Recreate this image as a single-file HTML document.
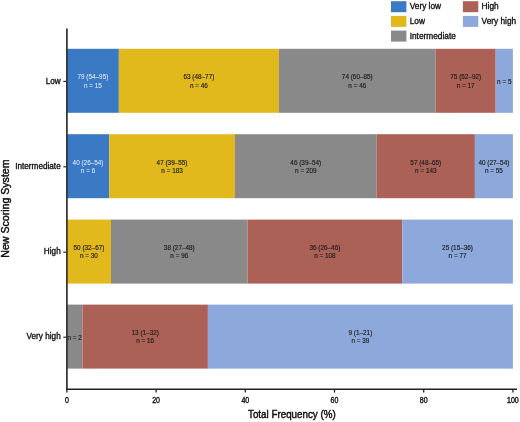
<!DOCTYPE html><html><head><meta charset="utf-8"><style>html,body{margin:0;padding:0;background:#fff;}
body{width:520px;height:422px;overflow:hidden;}
svg{display:block;will-change:transform;font-family:"Liberation Sans",sans-serif;}
text{paint-order:stroke;}
.d{fill:#1e1e1e;stroke:#1e1e1e;stroke-width:0.17px;}
.w{fill:#eef2fa;}
.k{fill:#111;stroke:#111;stroke-width:0.33px;}
.k2{fill:#111;stroke:#111;stroke-width:0.38px;}
.t{fill:#111;stroke:#111;stroke-width:0.45px;}
</style></head><body>
<svg width="520" height="422" viewBox="0 0 520 422">
<rect width="520" height="422" fill="#fff"/>
<rect x="66.90" y="48.80" width="51.95" height="64.00" fill="#3A7AC5"/>
<rect x="118.85" y="48.80" width="160.05" height="64.00" fill="#E1B91C"/>
<rect x="278.90" y="48.80" width="156.80" height="64.00" fill="#898989"/>
<rect x="435.70" y="48.80" width="60.00" height="64.00" fill="#AC6157"/>
<rect x="495.70" y="48.80" width="17.20" height="64.00" fill="#8DA9DB"/>
<text class="w" transform="translate(92.88,79.30) scale(0.9,1)" font-size="7.1" text-anchor="middle">79 (54–95)</text>
<text class="w" transform="translate(92.88,87.60) scale(0.9,1)" font-size="7.1" text-anchor="middle">n = 15</text>
<text class="d" transform="translate(198.88,79.30) scale(0.9,1)" font-size="7.1" text-anchor="middle">63 (48–77)</text>
<text class="d" transform="translate(198.88,87.60) scale(0.9,1)" font-size="7.1" text-anchor="middle">n = 46</text>
<text class="d" transform="translate(357.30,79.30) scale(0.9,1)" font-size="7.1" text-anchor="middle">74 (60–85)</text>
<text class="d" transform="translate(357.30,87.60) scale(0.9,1)" font-size="7.1" text-anchor="middle">n = 46</text>
<text class="d" transform="translate(465.70,79.30) scale(0.9,1)" font-size="7.1" text-anchor="middle">75 (52–92)</text>
<text class="d" transform="translate(465.70,87.60) scale(0.9,1)" font-size="7.1" text-anchor="middle">n = 17</text>
<text class="d" transform="translate(504.30,83.80) scale(0.9,1)" font-size="7.1" text-anchor="middle">n = 5</text>
<line x1="63.3" x2="66.5" y1="81.40" y2="81.40" stroke="#1a1a1a" stroke-width="1.1"/>
<text class="k" x="60.7" y="83.60" font-size="8.2" text-anchor="end">Low</text>
<rect x="66.90" y="134.20" width="42.30" height="64.00" fill="#3A7AC5"/>
<rect x="109.20" y="134.20" width="125.70" height="64.00" fill="#E1B91C"/>
<rect x="234.90" y="134.20" width="141.80" height="64.00" fill="#898989"/>
<rect x="376.70" y="134.20" width="98.20" height="64.00" fill="#AC6157"/>
<rect x="474.90" y="134.20" width="38.00" height="64.00" fill="#8DA9DB"/>
<text class="w" transform="translate(88.05,164.70) scale(0.9,1)" font-size="7.1" text-anchor="middle">40 (26–54)</text>
<text class="w" transform="translate(88.05,173.00) scale(0.9,1)" font-size="7.1" text-anchor="middle">n = 6</text>
<text class="d" transform="translate(172.05,164.70) scale(0.9,1)" font-size="7.1" text-anchor="middle">47 (39–55)</text>
<text class="d" transform="translate(172.05,173.00) scale(0.9,1)" font-size="7.1" text-anchor="middle">n = 183</text>
<text class="d" transform="translate(305.80,164.70) scale(0.9,1)" font-size="7.1" text-anchor="middle">46 (39–54)</text>
<text class="d" transform="translate(305.80,173.00) scale(0.9,1)" font-size="7.1" text-anchor="middle">n = 209</text>
<text class="d" transform="translate(425.80,164.70) scale(0.9,1)" font-size="7.1" text-anchor="middle">57 (48–65)</text>
<text class="d" transform="translate(425.80,173.00) scale(0.9,1)" font-size="7.1" text-anchor="middle">n = 143</text>
<text class="d" transform="translate(493.90,164.70) scale(0.9,1)" font-size="7.1" text-anchor="middle">40 (27–54)</text>
<text class="d" transform="translate(493.90,173.00) scale(0.9,1)" font-size="7.1" text-anchor="middle">n = 55</text>
<line x1="63.3" x2="66.5" y1="166.80" y2="166.80" stroke="#1a1a1a" stroke-width="1.1"/>
<text class="k" x="60.7" y="169.00" font-size="8.2" text-anchor="end">Intermediate</text>
<rect x="66.90" y="219.60" width="44.10" height="64.00" fill="#E1B91C"/>
<rect x="111.00" y="219.60" width="136.60" height="64.00" fill="#898989"/>
<rect x="247.60" y="219.60" width="154.60" height="64.00" fill="#AC6157"/>
<rect x="402.20" y="219.60" width="110.70" height="64.00" fill="#8DA9DB"/>
<text class="d" transform="translate(88.95,250.10) scale(0.9,1)" font-size="7.1" text-anchor="middle">50 (32–67)</text>
<text class="d" transform="translate(88.95,258.40) scale(0.9,1)" font-size="7.1" text-anchor="middle">n = 30</text>
<text class="d" transform="translate(179.30,250.10) scale(0.9,1)" font-size="7.1" text-anchor="middle">38 (27–48)</text>
<text class="d" transform="translate(179.30,258.40) scale(0.9,1)" font-size="7.1" text-anchor="middle">n = 96</text>
<text class="d" transform="translate(324.90,250.10) scale(0.9,1)" font-size="7.1" text-anchor="middle">36 (26–46)</text>
<text class="d" transform="translate(324.90,258.40) scale(0.9,1)" font-size="7.1" text-anchor="middle">n = 108</text>
<text class="d" transform="translate(457.55,250.10) scale(0.9,1)" font-size="7.1" text-anchor="middle">25 (15–36)</text>
<text class="d" transform="translate(457.55,258.40) scale(0.9,1)" font-size="7.1" text-anchor="middle">n = 77</text>
<line x1="63.3" x2="66.5" y1="252.20" y2="252.20" stroke="#1a1a1a" stroke-width="1.1"/>
<text class="k" x="60.7" y="254.40" font-size="8.2" text-anchor="end">High</text>
<rect x="66.90" y="304.60" width="15.60" height="64.00" fill="#898989"/>
<rect x="82.50" y="304.60" width="125.40" height="64.00" fill="#AC6157"/>
<rect x="207.90" y="304.60" width="305.00" height="64.00" fill="#8DA9DB"/>
<text class="d" transform="translate(74.70,339.60) scale(0.9,1)" font-size="7.1" text-anchor="middle">n = 2</text>
<text class="d" transform="translate(145.20,335.10) scale(0.9,1)" font-size="7.1" text-anchor="middle">13 (1–32)</text>
<text class="d" transform="translate(145.20,343.40) scale(0.9,1)" font-size="7.1" text-anchor="middle">n = 16</text>
<text class="d" transform="translate(360.40,335.10) scale(0.9,1)" font-size="7.1" text-anchor="middle">9 (1–21)</text>
<text class="d" transform="translate(360.40,343.40) scale(0.9,1)" font-size="7.1" text-anchor="middle">n = 39</text>
<line x1="63.3" x2="66.5" y1="337.20" y2="337.20" stroke="#1a1a1a" stroke-width="1.1"/>
<text class="k" x="60.7" y="339.40" font-size="8.2" text-anchor="end">Very high</text>
<line x1="66.9" x2="66.9" y1="28.4" y2="390" stroke="#303030" stroke-width="1.7"/>
<line x1="66" x2="517" y1="389.3" y2="389.3" stroke="#222" stroke-width="1.5"/>
<line x1="66.90" x2="66.90" y1="389" y2="392.6" stroke="#222" stroke-width="1.3"/>
<text class="k2" transform="translate(66.90,403.00) scale(0.86,1)" font-size="8.2" text-anchor="middle">0</text>
<line x1="156.10" x2="156.10" y1="389" y2="392.6" stroke="#222" stroke-width="1.3"/>
<text class="k2" transform="translate(156.10,403.00) scale(0.86,1)" font-size="8.2" text-anchor="middle">20</text>
<line x1="245.30" x2="245.30" y1="389" y2="392.6" stroke="#222" stroke-width="1.3"/>
<text class="k2" transform="translate(245.30,403.00) scale(0.86,1)" font-size="8.2" text-anchor="middle">40</text>
<line x1="334.50" x2="334.50" y1="389" y2="392.6" stroke="#222" stroke-width="1.3"/>
<text class="k2" transform="translate(334.50,403.00) scale(0.86,1)" font-size="8.2" text-anchor="middle">60</text>
<line x1="423.70" x2="423.70" y1="389" y2="392.6" stroke="#222" stroke-width="1.3"/>
<text class="k2" transform="translate(423.70,403.00) scale(0.86,1)" font-size="8.2" text-anchor="middle">80</text>
<line x1="512.90" x2="512.90" y1="389" y2="392.6" stroke="#222" stroke-width="1.3"/>
<text class="k2" transform="translate(512.90,403.00) scale(0.86,1)" font-size="8.2" text-anchor="middle">100</text>
<text class="t" x="291.85" y="418.2" font-size="10.8" text-anchor="middle" textLength="87.7" lengthAdjust="spacingAndGlyphs">Total Frequency (%)</text>
<text class="t" transform="translate(9.2,208.6) rotate(-90)" x="0" y="0" font-size="10.6" text-anchor="middle">New Scoring System</text>
<rect x="391" y="1.2" width="15.4" height="11" fill="#3A7AC5"/>
<text class="k" x="409.70" y="9.30" font-size="8.3">Very low</text>
<rect x="391" y="15.9" width="15.4" height="11" fill="#E1B91C"/>
<text class="k" x="409.70" y="24.00" font-size="8.3">Low</text>
<rect x="391" y="30.6" width="15.4" height="11" fill="#898989"/>
<text class="k" x="409.70" y="38.70" font-size="8.3">Intermediate</text>
<rect x="462.9" y="1.2" width="15.4" height="11" fill="#AC6157"/>
<text class="k" x="481.60" y="9.30" font-size="8.3">High</text>
<rect x="462.9" y="15.9" width="15.4" height="11" fill="#8DA9DB"/>
<text class="k" x="481.60" y="24.00" font-size="8.3">Very high</text>
</svg></body></html>
